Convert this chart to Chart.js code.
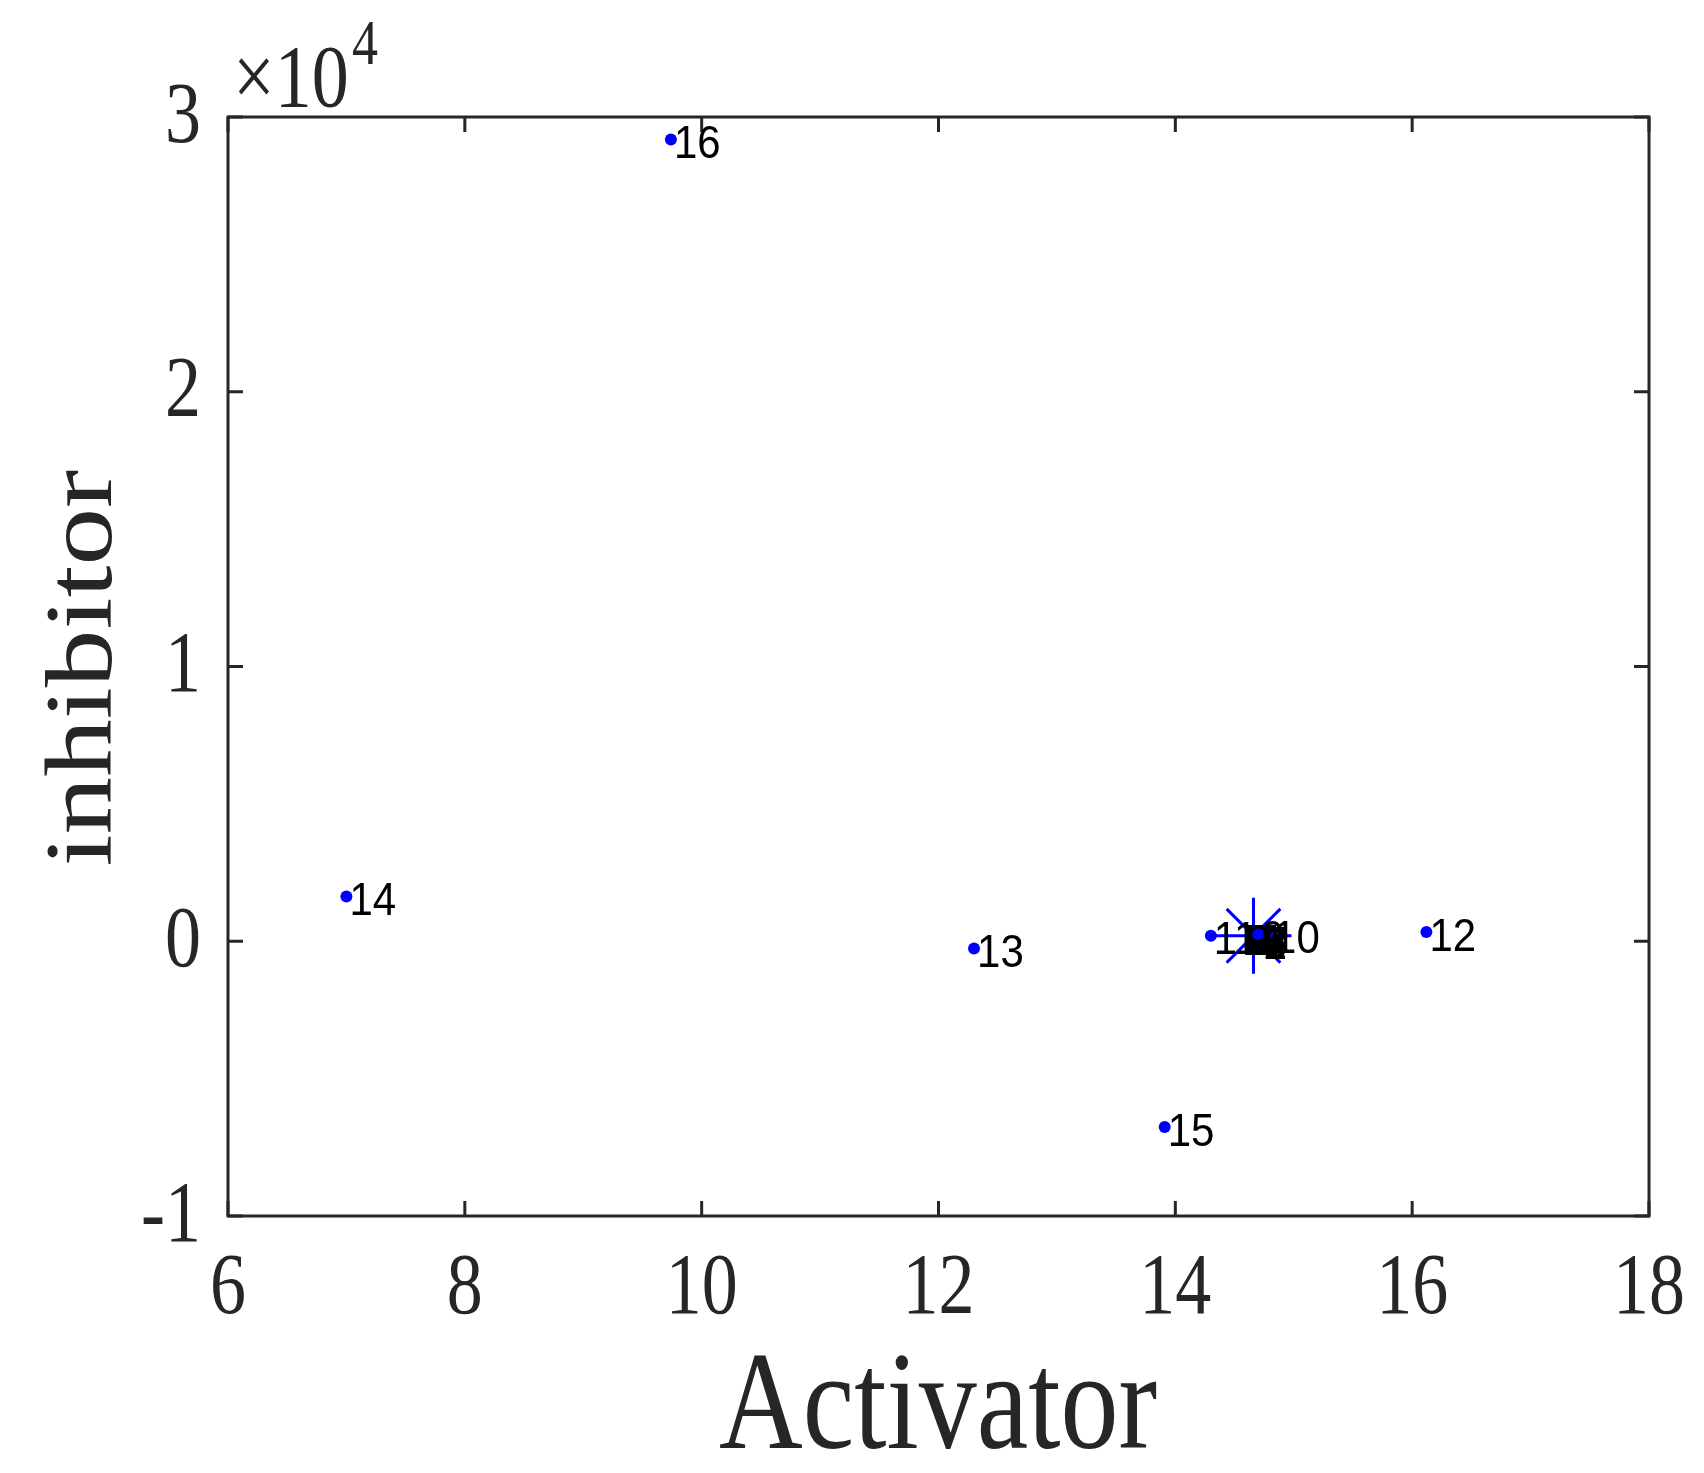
<!DOCTYPE html>
<html><head><meta charset="utf-8">
<script src="https://cdn.jsdelivr.net/npm/chart.js@4"></script>
<style>html,body{margin:0;background:#fff}#w{width:1704px;height:1473px}</style>
</head><body><div id="w"><canvas id="c" width="1704" height="1473"></canvas></div>
<script>
// point numbers and coordinates
const pointLabels = ['1','2','3','4','5','6','7','8','9','10','11','12','13','14','15','16'];
const activator   = [14.72,14.72,14.72,14.72,14.72,14.72,14.72,14.72,14.70,14.80,14.30,16.12,12.30,7.00,13.91,9.74];
const inhibitor   = [50,50,50,50,50,50,50,50,250,250,200,340,-260,1630,-6760,29180];
const squareIdx = [0,1,2,3,4,5,6,7];
const dotIdx = [8,9,10,11,12,13,14,15];
const starPoint = [14.66, 200];
const xTicks = [6,8,10,12,14,16,18];
const yTicks = [-10000,0,10000,20000,30000];

const INK = '#262626', SY = 1.2;
const textPlugin = {
  id: 'matlabText',
  afterDraw(chart) {
    const ctx = chart.ctx, a = chart.chartArea, xs = chart.scales.x, ys = chart.scales.y;
    ctx.save();
    ctx.strokeStyle = INK; ctx.lineWidth = 3;
    ctx.strokeRect(a.left, a.top, a.right - a.left, a.bottom - a.top);
    ctx.beginPath();
    xs.ticks.forEach(t => { const p = xs.getPixelForValue(t.value);
      ctx.moveTo(p, a.bottom); ctx.lineTo(p, a.bottom - 15); ctx.moveTo(p, a.top); ctx.lineTo(p, a.top + 15); });
    ys.ticks.forEach(t => { const p = ys.getPixelForValue(t.value);
      ctx.moveTo(a.left, p); ctx.lineTo(a.left + 15, p); ctx.moveTo(a.right, p); ctx.lineTo(a.right - 15, p); });
    ctx.stroke();
    ctx.fillStyle = INK;
    const stretched = (txt, x, y, font, align, base, sy) => {
      ctx.save(); ctx.translate(x, y); ctx.scale(1, sy || SY);
      ctx.font = font; ctx.textAlign = align; ctx.textBaseline = base;
      ctx.fillText(txt, 0, 0); ctx.restore();
    };
    const tf = '72px "Liberation Serif"';
    xs.ticks.forEach(t => stretched(String(t.value), xs.getPixelForValue(t.value), 1290, tf, 'center', 'middle'));
    ys.ticks.forEach(t => stretched(String(t.value / 10000), a.left - 27, ys.getPixelForValue(t.value) + 2, tf, 'right', 'middle'));
    stretched('\u00d710', 233, 106, '74px "Liberation Serif"', 'left', 'alphabetic');
    stretched('4', 352, 64, '52px "Liberation Serif"', 'left', 'alphabetic');
    stretched('Activator', 938, 1448, '116px "Liberation Serif"', 'center', 'alphabetic');
    ctx.save(); ctx.translate(111, 668); ctx.scale(1, SY); ctx.rotate(-Math.PI / 2);
    ctx.font = '96px "Liberation Serif"'; ctx.textAlign = 'center'; ctx.textBaseline = 'alphabetic';
    ctx.fillText('inhibitor', 0, 0); ctx.restore();
    ctx.fillStyle = '#000';
    pointLabels.forEach((l, i) => {
      stretched(l, xs.getPixelForValue(activator[i]) + 3, ys.getPixelForValue(inhibitor[i]) + 6,
        '42px "Liberation Sans"', 'left', 'middle', 1.1);
    });
    ctx.restore();
  }
};

new Chart(document.getElementById('c'), {
  type: 'scatter',
  data: { datasets: [
    { data: dotIdx.map(i => ({x: activator[i], y: inhibitor[i]})), pointStyle: 'circle', pointRadius: 6,
      backgroundColor: '#0000ff', borderColor: '#0000ff', borderWidth: 0, order: 1 },
    { data: squareIdx.map(i => ({x: activator[i], y: inhibitor[i]})), pointStyle: 'rect', pointRadius: 21,
      backgroundColor: '#000', borderColor: '#000', borderWidth: 0, order: 2 },
    { data: [{x: starPoint[0], y: starPoint[1]}], pointStyle: 'star', pointRadius: 38,
      backgroundColor: '#0000ff', borderColor: '#0000ff', borderWidth: 3, order: 3 }
  ]},
  plugins: [textPlugin],
  options: {
    responsive: false, devicePixelRatio: 1, animation: false,
    layout: { padding: { top: 117, right: 55, left: 0, bottom: 0 } },
    plugins: { legend: { display: false }, tooltip: { enabled: false } },
    scales: {
      x: { type: 'linear', min: 6, max: 18, afterBuildTicks: s => { s.ticks = xTicks.map(v => ({value: v})); },
        ticks: { display: false }, grid: { display: false }, border: { display: false },
        afterFit: s => { s.height = 257; } },
      y: { type: 'linear', min: -10000, max: 30000, afterBuildTicks: s => { s.ticks = yTicks.map(v => ({value: v})); },
        ticks: { display: false }, grid: { display: false }, border: { display: false },
        afterFit: s => { s.width = 228; } }
    }
  }
});
</script></body></html>
